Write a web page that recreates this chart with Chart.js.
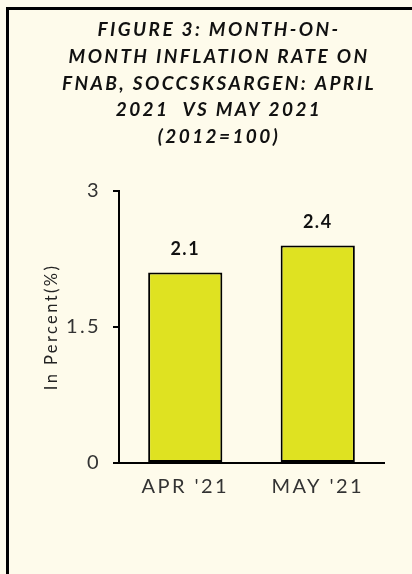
<!DOCTYPE html>
<html>
<head>
<meta charset="utf-8">
<script src="https://cdn.jsdelivr.net/npm/chart.js@4"></script>
<style>
  html, body { margin: 0; padding: 0; background: #FEFBEB; overflow: hidden; }
  #wrap { position: absolute; left: 0; top: 0; width: 412px; height: 574px; overflow: hidden; }
  #frame { position: absolute; left: 6px; top: 7px; width: 520px; height: 620px; border: 3px solid #000; }
  #chart { position: absolute; left: 0; top: 0; }
</style>
</head>
<body>
<div id="wrap">
  <div id="frame"></div>
  <canvas id="chart" width="438" height="574"></canvas>
</div>
<script>
// Data
const months = ["APR '21", "MAY '21"];
const rates = [2.1, 2.4];
const yTicks = [0, 1.5, 3];
const titleLines = [
    'FIGURE 3: MONTH-ON-',
    'MONTH INFLATION RATE ON',
    'FNAB, SOCCSKSARGEN: APRIL',
    '2021  VS MAY 2021',
    '(2012=100)'
];

// spacing between letters, like the original
const spacing = {
    id: 'spacing',
    beforeUpdate(chart) { chart.ctx.letterSpacing = '2.4px'; },
    beforeDraw(chart) { chart.ctx.letterSpacing = '2.4px'; }
};

// value above each bar
const barLabels = {
    id: 'barLabels',
    afterDatasetsDraw(chart) {
        const ctx = chart.ctx;
        ctx.save();
        ctx.letterSpacing = '1.5px';
        ctx.font = 'bold 18px Lato';
        ctx.fillStyle = '#111';
        ctx.textAlign = 'center';
        ctx.textBaseline = 'bottom';
        chart.getDatasetMeta(0).data.forEach(function (bar, i) {
            ctx.fillText(rates[i].toFixed(1), bar.x, bar.y - 14);
        });
        ctx.restore();
    }
};

new Chart(document.getElementById('chart'), {
    type: 'bar',
    data: {
        labels: months,
        datasets: [{
            data: rates,
            backgroundColor: '#DFE221',
            borderColor: '#000',
            borderWidth: 2,
            borderSkipped: false,
            barPercentage: 0.56,
            categoryPercentage: 1
        }]
    },
    options: {
        responsive: false,
        animation: false,
        layout: { padding: 0 },
        plugins: {
            legend: { display: false },
            tooltip: { enabled: false },
            title: {
                display: true,
                text: titleLines,
                color: '#111',
                font: { family: 'Lato', size: 19, style: 'italic', weight: 'bold', lineHeight: 1.4 },
                padding: { top: 17, bottom: 41 }
            }
        },
        scales: {
            x: {
                grid: { display: false },
                border: { display: true, color: '#000', width: 2 },
                ticks: { color: '#333', font: { family: 'Lato', size: 20 }, padding: 4 },
                afterFit(s) { s.height = 111; }
            },
            y: {
                min: 0,
                max: 3,
                afterBuildTicks(s) { s.ticks = yTicks.map(v => ({ value: v })); },
                ticks: { color: '#333', font: { family: 'Lato', size: 20 }, padding: 12 },
                grid: { drawOnChartArea: false, tickLength: 6, color: '#000', lineWidth: 2 },
                border: { display: true, color: '#000', width: 2 },
                title: {
                    display: true,
                    text: 'In Percent(%)',
                    color: '#222',
                    font: { family: 'Lato', size: 16.5 },
                    padding: { top: 42, bottom: 0 }
                },
                afterFit(s) { s.width = 119; }
            },
            y2: {
                position: 'right',
                grid: { display: false },
                border: { display: false },
                ticks: { display: false },
                afterFit(s) { s.width = 54; }
            }
        }
    },
    plugins: [spacing, barLabels]
});
</script>
</body>
</html>
